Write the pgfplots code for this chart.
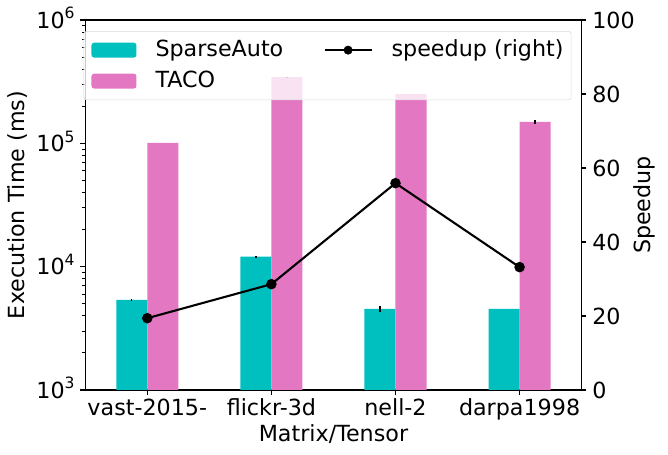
\documentclass[border=0pt]{standalone}
\usepackage{fontspec}
\setmainfont{DejaVu Sans}
\usepackage{pgfplots}
\pgfplotsset{compat=1.18}
\definecolor{sacol}{rgb}{0,0.75,0.75}
\definecolor{tacocol}{HTML}{E377C2}
\newcommand{\supr}[1]{\raisebox{0.42em}{\fontsize{11.2}{12}\selectfont #1}}
\begin{document}
\fontsize{16}{19.2}\selectfont
\begin{tikzpicture}
\useasboundingbox (0,0) rectangle (481pt,327.6pt);
\begin{axis}[
  at={(61.4pt,46.8pt)}, anchor=south west,
  scale only axis, width=357.4pt, height=266.4pt,
  xmin=-0.5, xmax=3.5, ymode=log, ymin=1e3, ymax=1e6,
  log origin=infty,
  xtick={0,1,2,3}, xticklabels={vast-2015-,flickr-3d,nell-2,darpa1998},
  ytick={1e3,1e4,1e5,1e6},
  yticklabels={10\supr{3},10\supr{4},10\supr{5},10\supr{6}},
  xtick pos=bottom, ytick pos=left, tick align=outside,
  major tick length=3.5pt, minor tick length=2pt,
  every tick/.style={black, line width=0.8pt},
  minor tick style={black, line width=0.6pt},
  axis line style={line width=0.8pt},
  xticklabel style={anchor=base, inner sep=0pt, yshift=-15pt},
  yticklabel style={anchor=base east, inner sep=0pt, xshift=-4pt, yshift=-5.8pt},
  xlabel={Matrix/Tensor}, ylabel={Execution Time (ms)},
  every axis x label/.style={at={(axis description cs:0.5,-0.1405)}, anchor=base},
  every axis y label/.style={at={(axis description cs:-0.1215,0.5)}, anchor=base, rotate=90},
  legend columns=2,
  legend style={at={(axis description cs:-0.0034,0.970)}, anchor=north west,
    draw=black!15, rounded corners=2pt, fill=white, fill opacity=0.8, draw opacity=1, text opacity=1,
    inner xsep=5.5pt, inner ysep=3pt, row sep=1.3pt,
    nodes={inner sep=0pt, text height=15pt, text depth=6pt, anchor=west},
    /tikz/every even column/.append style={column sep=29pt},
    /tikz/every odd column/.append style={column sep=13.7pt},
    /tikz/column 3/.append style={column sep=8pt}},
]
\addplot[ybar, bar width=0.25, bar shift=0pt, fill=sacol, draw=none,
  error bars/.cd, y dir=both, y explicit, error mark=none,
  error bar style={black, line width=1pt},
  /pgfplots/legend image code/.code={\fill[sacol, fill opacity=1] (0pt,-5.4pt) rectangle (32.4pt,5.4pt);}]
  coordinates {(-0.125,5370) +- (0,120) (0.875,12050) +- (0,100) (1.875,4540) +- (0,280) (2.875,4540) +- (0,0)};
\addlegendentry{SparseAuto}
\addlegendimage{legend image code/.code={\draw[black, line width=1.5pt, draw opacity=1] (0pt,0pt) -- (33.8pt,0pt); \fill[black, fill opacity=1] (16.9pt,0pt) circle (3pt);}}
\addlegendentry{speedup (right)}
\addplot[ybar, bar width=0.25, bar shift=0pt, fill=tacocol, draw=none,
  error bars/.cd, y dir=both, y explicit, error mark=none,
  error bar style={black, line width=1pt},
  /pgfplots/legend image code/.code={\fill[tacocol, fill opacity=1] (0pt,-5.4pt) rectangle (32.4pt,5.4pt);}]
  coordinates {(0.125,101000) +- (0,0) (1.125,344000) +- (0,4000) (2.125,250000) +- (0,0) (3.125,149000) +- (0,5000)};
\addlegendentry{TACO}
\end{axis}
\begin{axis}[
  at={(61.4pt,46.8pt)}, anchor=south west,
  scale only axis, width=357.4pt, height=266.4pt,
  xmin=-0.5, xmax=3.5, ymin=0, ymax=100,
  axis x line=none, axis y line*=right,
  ytick={0,20,40,60,80,100}, ytick pos=right, tick align=outside,
  major tick length=3.5pt,
  every tick/.style={black, line width=0.8pt},
  axis line style={line width=0.8pt},
  /pgf/number format/assume math mode=true,
  yticklabel style={anchor=base west, inner sep=0pt, xshift=4pt, yshift=-5.8pt},
  ylabel={Speedup},
  every axis y label/.style={at={(axis description cs:1.1396,0.5)}, anchor=base, rotate=90},
]
\addplot[black, line width=1.5pt, mark=*, mark size=3pt] coordinates {(0,19.4) (1,28.6) (2,55.9) (3,33.2)};
\end{axis}
\end{tikzpicture}
\end{document}
